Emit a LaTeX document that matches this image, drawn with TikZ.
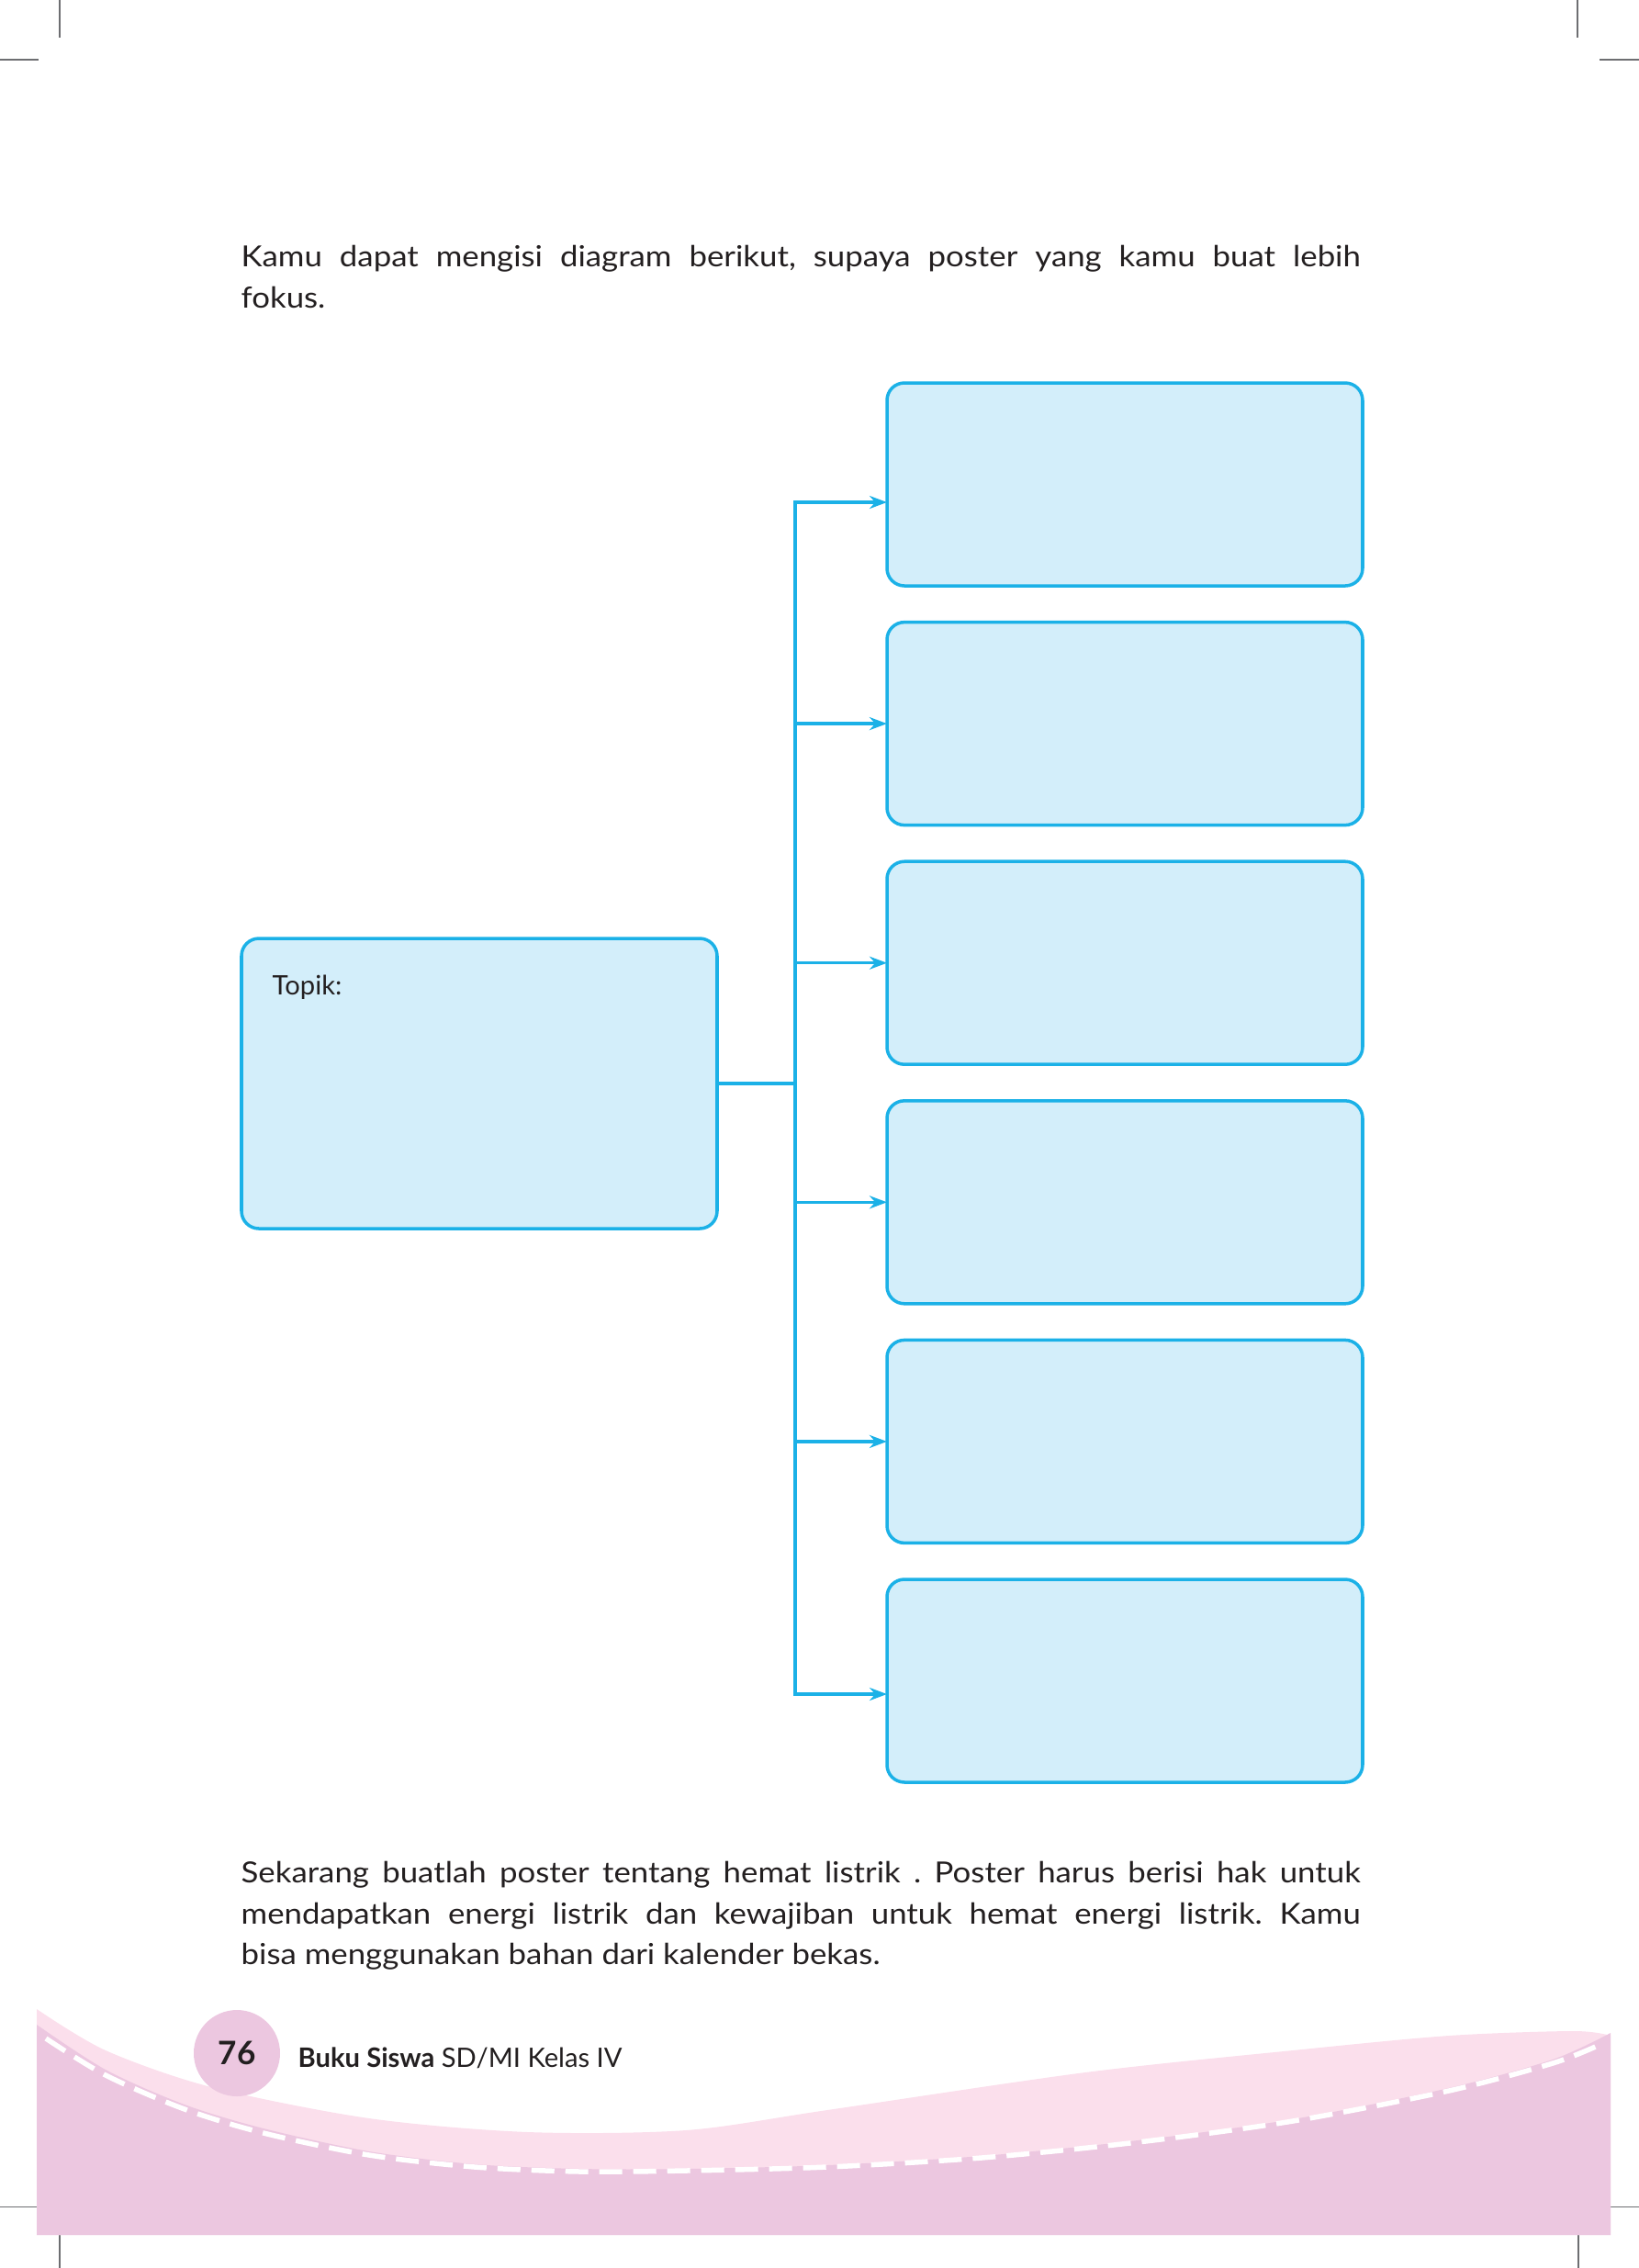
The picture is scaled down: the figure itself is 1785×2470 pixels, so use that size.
\documentclass[tikz,border=0pt]{standalone}
\usepackage{fontspec}
\setmainfont{Lato}
\newfontfamily\bodyfont{Lato}[FakeStretch=1.1]
\usetikzlibrary{arrows.meta,positioning}

\definecolor{boxline}{HTML}{1BB1E7}
\definecolor{boxfill}{HTML}{D3EEFA}
\definecolor{pinkdark}{HTML}{ECC7E0}
\definecolor{pinklight}{HTML}{FBDFEC}
\definecolor{inkblack}{HTML}{231F20}
\definecolor{cropgray}{HTML}{6D6E71}

\hyphenpenalty=10000
\exhyphenpenalty=10000
\frenchspacing

\begin{document}
\begin{tikzpicture}[x=0.1mm, y=-0.1mm, >={Stealth[length=1.9mm,width=1.4mm]}, node distance=3.96mm,
    box/.style={draw=boxline, fill=boxfill, line width=1pt, rounded corners=1.9mm, minimum width=51.8mm, minimum height=22.1mm, inner sep=0pt, outer sep=0pt},
    topicbox/.style={box, minimum height=31.6mm},
    connector/.style={draw=boxline, line width=1pt},
    bodytext/.style={anchor=base west, text width=121.9mm, align=justify, inner sep=0pt, text=inkblack, font=\bodyfont\fontsize{9pt}{12.8pt}\selectfont},
    cropmark/.style={draw=cropgray, line width=0.3pt}]
    \useasboundingbox (0,0) rectangle (1785,2470);

    % crop marks
    \draw[cropmark] (65,0) -- (65,41);
    \draw[cropmark] (0,65) -- (42,65);
    \draw[cropmark] (1718,0) -- (1718,41);
    \draw[cropmark] (1742,65) -- (1785,65);
    \draw[cropmark] (0,2403) -- (40,2403);
    \draw[cropmark] (65,2434) -- (65,2470);
    \draw[cropmark] (1719,2434) -- (1719,2470);
    \draw[cropmark] (1754,2403) -- (1785,2403);

    \node[bodytext] (intro) at (262,290) {Kamu dapat mengisi diagram berikut, supaya poster yang kamu buat lebih\linebreak fokus.};

    \node[topicbox]                 (topic) at (522,1180) {};
    \node[anchor=base west, inner sep=0pt, text=inkblack, font=\fontsize{8.3pt}{12.8pt}\selectfont] (topiclabel) at (296,1083) {Topik:};

    \node[box]                      (item1) at (1225,527.5) {};
    \node[box]                      (item2) [below=of item1] {};
    \node[box]                      (item3) [below=of item2] {};
    \node[box]                      (item4) [below=of item3] {};
    \node[box]                      (item5) [below=of item4] {};
    \node[box]                      (item6) [below=of item5] {};

    \coordinate (j1) at (866,547);
    \coordinate (j6) at (866,1845);

    \draw[connector] (topic.east) -- (topic.east -| j1);
    \draw[connector, <->] (j1 -| item1.west) -- (j1) -- (j6) -- (j6 -| item6.west);
    \path[->, color=boxline, line width=1pt]
          (item2.west -| j1) edge (item2.west)
          (item3.west -| j1) edge (item3.west)
          (item4.west -| j1) edge (item4.west)
          (item5.west -| j1) edge (item5.west);

    \node[bodytext] (task) at (262,2050) {Sekarang buatlah poster tentang hemat listrik . Poster harus berisi hak untuk\linebreak mendapatkan energi listrik dan kewajiban untuk hemat energi listrik. Kamu\linebreak bisa menggunakan bahan dari kalender bekas.};

    % footer band
    \fill[pinklight] plot[smooth] coordinates {(40,2188) (115,2233) (230,2273) (402,2307) (575,2322) (747,2320) (901,2298) (1182,2257) (1408,2233) (1578,2217) (1714,2212) (1754,2217)}
        -- (1754,2434) -- (40,2434) -- cycle;
    \fill[pinkdark] plot[smooth] coordinates {(40,2205) (115,2254) (201,2292) (287,2318) (402,2343) (517,2357) (632,2362) (747,2362) (901,2358) (1069,2348) (1239,2331) (1408,2308) (1578,2274) (1691,2243) (1754,2214)}
        -- (1754,2434) -- (40,2434) -- cycle;
    \draw[white, line width=0.55mm, dash pattern=on 2.5mm off 1.2mm] plot[smooth] coordinates {(50,2220) (115,2260) (201,2297) (287,2323) (402,2347) (517,2360) (632,2365) (747,2364) (901,2360) (1069,2350) (1239,2333) (1408,2310) (1578,2277) (1691,2247) (1742,2227)};

    \node[circle, fill=pinkdark, minimum size=9.4mm, inner sep=0pt, text=inkblack, font=\fontsize{10pt}{11pt}\selectfont\bfseries] (pagenum) at (258,2236) {76};
    \node[anchor=base west, inner sep=0pt, text=inkblack, font=\fontsize{8.3pt}{10pt}\selectfont] (booktitle) at (324,2251) {\textbf{Buku Siswa} SD/MI Kelas IV};
\end{tikzpicture}
\end{document}
